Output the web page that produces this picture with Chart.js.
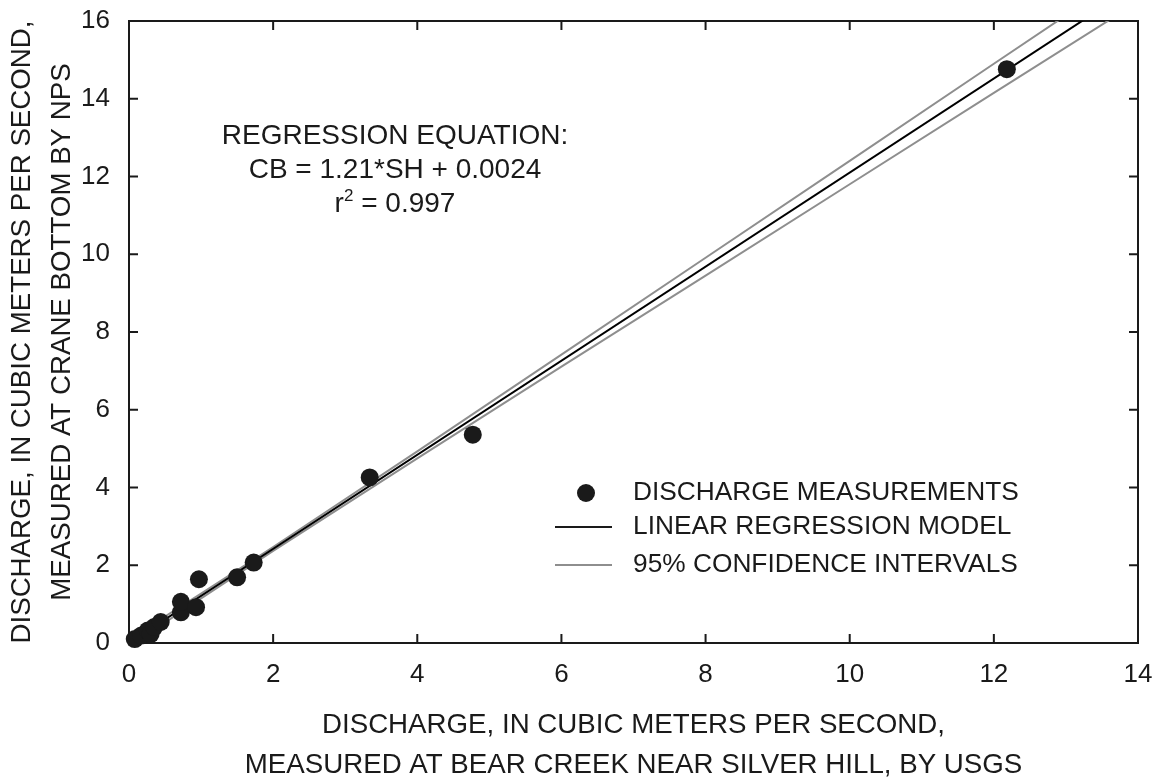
<!DOCTYPE html>
<html lang="en">
<head>
  <meta charset="UTF-8" />
  <title>Discharge - Bear Creek vs Crane Bottom</title>
  <script src="https://cdn.jsdelivr.net/npm/chart.js"></script>
  <style>
    html, body { margin: 0; padding: 0; background: #fff; }
    canvas { display: block; }
  </style>
</head>
<body>
  <canvas id="chart" width="1158" height="777"></canvas>

  <script>
    // discharge measurements, m3/s (x = Bear Creek near Silver Hill, y = Crane Bottom)
    const measX = [0.08, 0.17, 0.26, 0.30, 0.35, 0.44, 0.72, 0.72, 0.93, 0.97, 1.50, 1.73, 3.34, 4.77, 12.18];
    const measY = [0.10, 0.19, 0.32, 0.23, 0.41, 0.54, 0.79, 1.06, 0.92, 1.64, 1.69, 2.07, 4.26, 5.36, 14.76];

    // regression line CB = 1.21*SH + 0.0024
    const regX = [0, 14];
    const regY = [0.0024, 16.94];

    // 95% confidence band
    const ciX     = [0,     1,    2,    4,    6,    8,    10,    12,    14];
    const ciUpper = [0.09,  1.27, 2.47, 4.93, 7.42, 9.91, 12.40, 14.90, 17.39];
    const ciLower = [-0.09, 1.15, 2.37, 4.75, 7.11, 9.45, 11.80, 14.15, 16.49];

    const xMax = 14, yMax = 16, tickStep = 2;

    const legendLabels = ['DISCHARGE MEASUREMENTS', 'LINEAR REGRESSION MODEL', '95% CONFIDENCE INTERVALS'];
    const xTitle = ['DISCHARGE, IN CUBIC METERS PER SECOND,', 'MEASURED AT BEAR CREEK NEAR SILVER HILL, BY USGS'];
    const yTitle = ['DISCHARGE, IN CUBIC METERS PER SECOND,', 'MEASURED AT CRANE BOTTOM BY NPS'];

    const FONT = "'Liberation Sans', Arial, sans-serif";
    const INK = '#1a1a1a';
    const GREY = '#8e8e8e';

    const toXY = (xs, ys) => xs.map((v, i) => ({ x: v, y: ys[i] }));

    // box round the plot, ticks pointing inwards on all four sides
    const frameTicks = {
      id: 'frameTicks',
      beforeDatasetsDraw(chart) {
        const { ctx, chartArea: a, scales: { x, y } } = chart;
        const len = 9;
        ctx.save();
        ctx.strokeStyle = INK;
        ctx.lineWidth = 2;
        ctx.strokeRect(a.left, a.top, a.right - a.left, a.bottom - a.top);
        ctx.beginPath();
        x.ticks.forEach(t => {
          const px = x.getPixelForValue(t.value);
          ctx.moveTo(px, a.bottom); ctx.lineTo(px, a.bottom - len);
          ctx.moveTo(px, a.top); ctx.lineTo(px, a.top + len);
        });
        y.ticks.forEach(t => {
          const py = y.getPixelForValue(t.value);
          ctx.moveTo(a.left, py); ctx.lineTo(a.left + len, py);
          ctx.moveTo(a.right, py); ctx.lineTo(a.right - len, py);
        });
        ctx.stroke();
        ctx.restore();
      }
    };

    // equation text + legend inside the plot
    const notes = {
      id: 'notes',
      afterDraw(chart) {
        const { ctx } = chart;
        ctx.save();
        ctx.fillStyle = INK;
        ctx.font = '28px ' + FONT;
        ctx.textBaseline = 'middle';
        ctx.textAlign = 'center';
        const cx = 395;
        ctx.fillText('REGRESSION EQUATION:', cx, 136);
        ctx.fillText('CB = 1.21*SH + 0.0024', cx, 170);

        // r² with a raised 2
        const a = 'r', b = ' = 0.997';
        ctx.textAlign = 'left';
        const wa = ctx.measureText(a).width, wb = ctx.measureText(b).width;
        ctx.font = '17px ' + FONT;
        const ws = ctx.measureText('2').width;
        const x0 = cx - (wa + ws + wb) / 2;
        ctx.fillText('2', x0 + wa, 196);
        ctx.font = '28px ' + FONT;
        ctx.fillText(a, x0, 204);
        ctx.fillText(b, x0 + wa + ws, 204);

        // legend
        ctx.font = '26.3px ' + FONT;
        const tx = 633, rows = [493, 527, 565];
        ctx.beginPath();
        ctx.arc(586, rows[0], 9, 0, Math.PI * 2);
        ctx.fill();
        ctx.lineWidth = 2;
        ctx.strokeStyle = INK;
        ctx.beginPath(); ctx.moveTo(555, rows[1]); ctx.lineTo(612, rows[1]); ctx.stroke();
        ctx.strokeStyle = GREY;
        ctx.beginPath(); ctx.moveTo(555, rows[2]); ctx.lineTo(612, rows[2]); ctx.stroke();
        legendLabels.forEach((t, i) => ctx.fillText(t, tx, rows[i]));
        ctx.restore();
      }
    };

    new Chart(document.getElementById('chart'), {
      type: 'scatter',
      data: {
        datasets: [
          {
            label: legendLabels[0],
            data: toXY(measX, measY),
            pointRadius: 9,
            pointHoverRadius: 9,
            backgroundColor: INK,
            borderWidth: 0,
            clip: false
          },
          {
            label: legendLabels[1],
            data: toXY(regX, regY),
            showLine: true,
            borderColor: '#000',
            borderWidth: 2,
            pointRadius: 0
          },
          {
            label: legendLabels[2],
            data: toXY(ciX, ciUpper),
            showLine: true,
            borderColor: GREY,
            borderWidth: 2,
            pointRadius: 0
          },
          {
            label: legendLabels[2],
            data: toXY(ciX, ciLower),
            showLine: true,
            borderColor: GREY,
            borderWidth: 2,
            pointRadius: 0
          }
        ]
      },
      options: {
        responsive: false,
        animation: false,
        layout: { padding: { top: 21, right: 20, left: 0, bottom: 0 } },
        plugins: {
          legend: { display: false },
          tooltip: { enabled: false }
        },
        scales: {
          x: {
            type: 'linear',
            min: 0,
            max: xMax,
            grid: { display: false, drawTicks: false },
            border: { display: false },
            ticks: { stepSize: tickStep, color: INK, padding: 16, font: { size: 26, family: FONT } },
            title: {
              display: true,
              text: xTitle,
              color: INK,
              font: { size: 27.7, family: FONT, lineHeight: '40px' },
              padding: { top: 0, bottom: -8 }
            },
            afterFit: s => { s.height = 134; s.paddingLeft = 0; s.paddingRight = 0; }
          },
          y: {
            type: 'linear',
            min: 0,
            max: yMax,
            grid: { display: false, drawTicks: false },
            border: { display: false },
            ticks: { stepSize: tickStep, color: INK, padding: 19, font: { size: 26, family: FONT } },
            title: {
              display: true,
              text: yTitle,
              color: INK,
              font: { size: 27.7, family: FONT, lineHeight: '40px' },
              padding: { top: 2, bottom: 0 }
            },
            afterFit: s => { s.width = 129; s.paddingTop = 0; s.paddingBottom = 0; }
          }
        }
      },
      plugins: [frameTicks, notes]
    });
  </script>
</body>
</html>
